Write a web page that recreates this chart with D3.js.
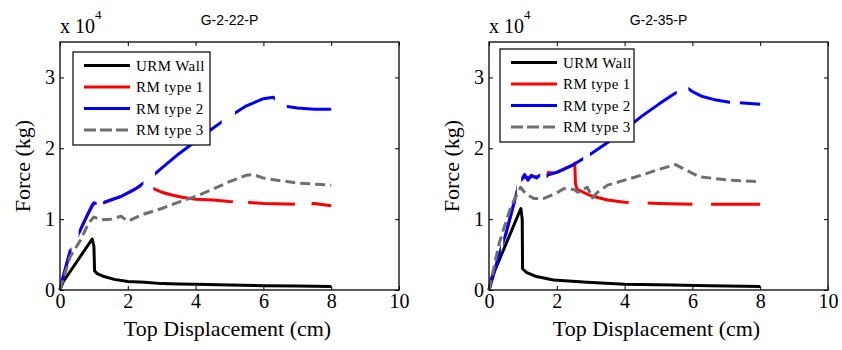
<!DOCTYPE html>
<html>
<head>
<meta charset="utf-8">
<script src="https://cdn.jsdelivr.net/npm/d3@7"></script>
<style>
  body { margin: 0; background: #fff; }
  svg { display: block; }
</style>
</head>
<body>
<div id="chart"></div>
<script>
// displacement (cm) vs force (x 10^4 kg)
const urm22 = [[0,0],[0.1,0.12],[0.95,0.72],[1.0,0.62],[1.02,0.27],[1.1,0.23],[1.3,0.19],[1.6,0.15],[2,0.12],[2.5,0.11],[3,0.09],[3.5,0.085],[4,0.08],[5,0.07],[6,0.06],[7,0.055],[8,0.05]];
const rm1_22 = [[0,0],[0.1,0.2],[0.3,0.55],[0.4,0.6],[0.55,0.8],[0.83,1.08],[1.0,1.22],[1.3,1.23],[1.8,1.32],[2.2,1.42],[2.5,1.5],[2.75,1.43],[3,1.38],[3.3,1.34],[3.6,1.31],[4,1.28],[4.5,1.27],[5,1.25],[5.5,1.24],[6,1.22],[7,1.21],[7.5,1.22],[8,1.19]];
const rm2_22 = [[0,0],[0.1,0.2],[0.3,0.55],[0.4,0.6],[0.55,0.8],[0.83,1.08],[0.95,1.2],[1.0,1.23],[1.1,1.22],[1.3,1.24],[1.8,1.32],[2.2,1.42],[2.5,1.52],[3,1.72],[3.5,1.92],[4,2.1],[4.5,2.28],[5,2.45],[5.5,2.6],[6.0,2.7],[6.3,2.72],[6.5,2.62],[6.7,2.59],[7.0,2.57],[7.5,2.55],[8,2.55]];
const rm3_22 = [[0,0],[0.3,0.47],[0.6,0.7],[0.85,0.95],[1.0,1.03],[1.2,0.99],[1.5,1.0],[1.8,1.04],[2.0,0.97],[2.4,1.06],[3.0,1.15],[3.5,1.24],[4,1.32],[4.5,1.42],[5,1.53],[5.5,1.62],[5.7,1.63],[6.0,1.58],[6.4,1.55],[7,1.51],[8,1.48]];

const urm35 = [[0,0],[0.08,0.17],[0.94,1.15],[0.98,1.0],[0.99,0.3],[1.1,0.25],[1.4,0.19],[1.9,0.14],[2.9,0.11],[4,0.08],[5.4,0.07],[6.5,0.06],[8,0.05]];
const rm1_35 = [[0,0],[0.3,0.5],[0.5,0.8],[0.84,1.41],[0.9,1.6],[1.0,1.58],[1.3,1.6],[1.7,1.6],[1.75,1.66],[1.9,1.65],[2,1.66],[2.5,1.77],[2.53,1.79],[2.55,1.5],[2.6,1.42],[3,1.33],[3.5,1.27],[4,1.24],[4.5,1.23],[5,1.22],[6,1.21],[7,1.21],[8,1.21]];
const rm2_35 = [[0,0],[0.3,0.5],[0.5,0.8],[0.84,1.41],[0.9,1.6],[0.95,1.55],[1.05,1.63],[1.15,1.55],[1.25,1.62],[1.4,1.58],[1.5,1.62],[1.7,1.62],[2,1.66],[2.5,1.77],[3,1.92],[3.5,2.08],[4,2.26],[4.5,2.45],[5,2.62],[5.5,2.78],[5.85,2.85],[6.0,2.8],[6.3,2.73],[6.7,2.68],[7.1,2.65],[7.5,2.64],[8,2.62]];
const rm3_35 = [[0,0],[0.3,0.66],[0.64,1.17],[0.93,1.45],[1.1,1.35],[1.33,1.29],[1.6,1.29],[2.0,1.37],[2.2,1.43],[2.5,1.42],[2.62,1.38],[2.9,1.45],[3.05,1.3],[3.2,1.38],[3.5,1.48],[4,1.55],[4.5,1.62],[5,1.7],[5.5,1.77],[5.7,1.72],[6.2,1.6],[6.7,1.57],[7.1,1.55],[8,1.53]];

const seriesNames = ['URM Wall', 'RM type 1', 'RM type 2', 'RM type 3'];
const panelTitles = ['G-2-22-P', 'G-2-35-P'];
const xTicks = [0, 2, 4, 6, 8, 10];
const yTicks = [0, 1, 2, 3];

// line styles
const colors = ['#000000', '#ff0000', '#0000ff', '#6f6f6f'];
const dashes = [null, null, null, '10,5'];
const legendDashes = [null, null, null, '12,4'];
// x ranges (cm) where the exported red/blue lines break up
const breaks22 = [null,
  [[0.3,0.6],[1.05,1.27],[2.4,2.75],[5.1,5.55],[6.93,7.42]],
  [[0.34,0.55],[1.08,1.28],[2.46,2.8],[4.77,5.16],[6.34,6.69]],
  null];
const breaks35 = [null,
  [[0.3,0.5],[0.8,0.97],[1.45,1.7],[4.12,4.68],[6.0,6.55]],
  [[0.35,0.42],[0.82,0.95],[1.51,1.7],[2.78,2.98],[5.54,5.88],[7.11,7.4]],
  null];

const width = 842, height = 350;
const plotTop = 42, plotW = 339, plotH = 248;
const serif = '"Liberation Serif", "Times New Roman", serif';

const svg = d3.select('#chart').append('svg')
  .attr('width', width)
  .attr('height', height);
const defs = svg.append('defs');

function styleAxis(a) {
  a.select('.domain').remove();
  a.attr('font-family', serif).attr('font-size', 20);
  a.selectAll('.tick line').attr('stroke', '#000');
  a.selectAll('.tick text').attr('fill', '#000');
}

function drawPanel(id, left, title, series, breaks, legendPos) {
  const g = svg.append('g').attr('transform', `translate(${left},${plotTop})`);
  const x = d3.scaleLinear().domain([0, 10]).range([0, plotW]);
  const y = d3.scaleLinear().domain([0, 3.5]).range([plotH, 0]);

  // axes, ticks pointing inwards on every side
  g.append('g').attr('transform', `translate(0,${plotH})`)
    .call(d3.axisBottom(x).tickValues(xTicks).tickFormat(d3.format('d')).tickSize(-4).tickPadding(4))
    .call(styleAxis);
  g.append('g')
    .call(d3.axisLeft(y).tickValues(yTicks).tickFormat(d3.format('d')).tickSize(-4).tickPadding(5))
    .call(styleAxis);
  g.append('g')
    .call(d3.axisTop(x).tickValues(xTicks).tickSize(-4).tickFormat(''))
    .call(styleAxis);
  g.append('g').attr('transform', `translate(${plotW},0)`)
    .call(d3.axisRight(y).tickValues(yTicks).tickSize(-4).tickFormat(''))
    .call(styleAxis);

  const line = d3.line().x(d => x(d[0])).y(d => y(d[1]));

  series.forEach((s, i) => {
    const p = g.append('path')
      .datum(s)
      .attr('d', line)
      .attr('fill', 'none')
      .attr('stroke', colors[i])
      .attr('stroke-width', 3)
      .attr('stroke-linejoin', 'round')
      .attr('stroke-dasharray', dashes[i]);
    if (breaks[i]) {
      const clipId = `clip-${id}-${i}`;
      const spans = [];
      let start = -1;
      breaks[i].forEach(([a, b]) => { spans.push([start, a]); start = b; });
      spans.push([start, 11]);
      defs.append('clipPath').attr('id', clipId)
        .selectAll('rect').data(spans).join('rect')
        .attr('x', d => x(d[0])).attr('width', d => x(d[1]) - x(d[0]))
        .attr('y', -10).attr('height', plotH + 20);
      p.attr('clip-path', `url(#${clipId})`);
    }
  });

  g.append('rect')
    .attr('width', plotW).attr('height', plotH)
    .attr('fill', 'none').attr('stroke', '#000').attr('stroke-width', 1.3);

  // legend
  const lg = g.append('g').attr('transform', `translate(${legendPos[0]},${legendPos[1]})`);
  lg.append('rect')
    .attr('width', legendPos[2]).attr('height', legendPos[3])
    .attr('fill', '#fff').attr('stroke', '#000').attr('stroke-width', 1.2);
  seriesNames.forEach((name, i) => {
    const ry = 13.5 + i * 21.5;
    lg.append('line')
      .attr('x1', 11).attr('x2', 57).attr('y1', ry).attr('y2', ry)
      .attr('stroke', colors[i]).attr('stroke-width', 3)
      .attr('stroke-dasharray', legendDashes[i]);
    lg.append('text')
      .attr('x', 63).attr('y', ry + 5)
      .attr('font-family', serif)
      .attr('font-size', 15)
      .attr('letter-spacing', 0.4)
      .text(name);
  });

  // title and exponent
  svg.append('text')
    .attr('x', left + plotW / 2).attr('y', 25)
    .attr('text-anchor', 'middle')
    .attr('font-family', 'Liberation Sans, sans-serif')
    .attr('font-size', 14)
    .text(title);
  const ex = svg.append('text')
    .attr('x', left).attr('y', 33)
    .attr('font-family', serif)
    .attr('font-size', 20);
  ex.append('tspan').text('x 10');
  ex.append('tspan').attr('font-size', 13).attr('dy', -14).text('4');

  // axis labels
  svg.append('text')
    .attr('x', left + plotW / 2 - 2).attr('y', 336)
    .attr('text-anchor', 'middle')
    .attr('font-family', serif)
    .attr('font-size', 22)
    .text('Top Displacement (cm)');
  svg.append('text')
    .attr('transform', `translate(${left - 30},${plotTop + plotH / 2}) rotate(-90)`)
    .attr('text-anchor', 'middle')
    .attr('font-family', serif)
    .attr('font-size', 22)
    .text('Force (kg)');
}

drawPanel('a', 60, panelTitles[0], [urm22, rm1_22, rm2_22, rm3_22], breaks22, [13, 10, 137, 93]);
drawPanel('b', 489, panelTitles[1], [urm35, rm1_35, rm2_35, rm3_35], breaks35, [11, 7, 134, 93]);
</script>
</body>
</html>
